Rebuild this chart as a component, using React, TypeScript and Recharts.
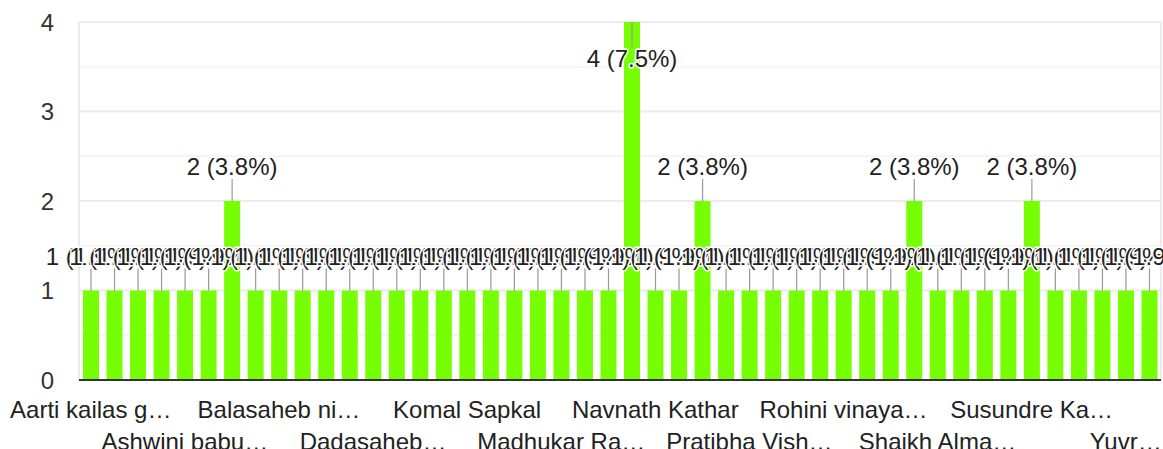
import React from 'react';
import { BarChart, Bar, XAxis, YAxis, CartesianGrid, LabelList } from 'recharts';

// responses per person (46 people, 53 responses in total)
const values = [
  1, 1, 1, 1, 1, 1, 2, 1, 1, 1,
  1, 1, 1, 1, 1, 1, 1, 1, 1, 1,
  1, 1, 1, 4, 1, 1, 2, 1, 1, 1,
  1, 1, 1, 1, 1, 2, 1, 1, 1, 1,
  2, 1, 1, 1, 1, 1,
];

// only every 4th name is shown on the axis
const tickLabels = [
  'Aarti kailas g…',
  'Ashwini babu…',
  'Balasaheb ni…',
  'Dadasaheb…',
  'Komal Sapkal',
  'Madhukar Ra…',
  'Navnath Kathar',
  'Pratibha Vish…',
  'Rohini vinaya…',
  'Shaikh Alma…',
  'Susundre Ka…',
  'Yuvr…',
];

const yTicks = [0, 1, 2, 3, 4];
const minorTicks = [0.5, 1.5, 2.5, 3.5];
const yMax = 4;

const total = values.reduce((s, v) => s + v, 0);
const data = values.map((v, i) => ({ id: i, count: v }));

const FONT = "Arial, 'Liberation Sans', sans-serif";

const BarLabel = (props: any) => {
  const { x, y, width, value } = props;
  const cx = Number(x) + Number(width) / 2;
  const top = Number(y);
  const pct = ((value / total) * 100).toFixed(1);
  // no room above the tallest bar, so its label goes inside
  const flip = top < 50;
  const y2 = flip ? top + 25 : top - 22;
  const ty = flip ? top + 45 : top - 26;
  return (
    <g>
      <line x1={cx} y1={top} x2={cx} y2={y2} stroke="#999" strokeWidth={1.2} />
      <text
        x={cx}
        y={ty}
        textAnchor="middle"
        fontSize={24}
        fontFamily={FONT}
        fill="#222"
        stroke="#fff"
        strokeWidth={3}
        strokeLinejoin="round"
        paintOrder="stroke"
      >
        {`${value} (${pct}%)`}
      </text>
    </g>
  );
};

const XTick = (props: any) => {
  const { x, y, payload } = props;
  const i = Number(payload.value);
  if (i % 4 !== 0) return null;
  const k = i / 4;
  return (
    <text
      x={x}
      y={y + (k % 2 === 0 ? 38 : 70)}
      textAnchor="middle"
      fontSize={24}
      fontFamily={FONT}
      fill="#222"
    >
      {tickLabels[k]}
    </text>
  );
};

// half-step gridlines, lighter than the main ones
const minorLines = ({ offset }: any) =>
  minorTicks.map((t) => offset.top + offset.height * (1 - t / yMax));

export default function App() {
  return (
    <div style={{ position: 'absolute', left: 0, top: 0, background: '#fff' }}>
      <BarChart
        width={1163}
        height={449}
        data={data}
        margin={{ top: 22, right: 2, left: 0, bottom: 0 }}
      >
        <CartesianGrid
          stroke="#f5f5f5"
          strokeWidth={2}
          vertical={false}
          horizontalCoordinatesGenerator={minorLines}
        />
        <CartesianGrid
          stroke="#ebebeb"
          strokeWidth={2}
          verticalCoordinatesGenerator={({ offset }: any) => [offset.left, offset.left + offset.width]}
        />
        <XAxis
          dataKey="id"
          interval={0}
          tick={<XTick />}
          tickLine={false}
          tickSize={0}
          tickMargin={0}
          height={69}
          axisLine={{ stroke: '#333', strokeWidth: 2 }}
        />
        <YAxis
          domain={[0, yMax]}
          ticks={yTicks}
          width={79}
          axisLine={false}
          tickLine={false}
          tickSize={0}
          tickMargin={25}
          tick={{ fontSize: 24, fontFamily: FONT, fill: '#333' }}
        />
        <Bar dataKey="count" fill="#76ff03" barSize={16} isAnimationActive={false}>
          <LabelList dataKey="count" content={<BarLabel />} />
        </Bar>
      </BarChart>
    </div>
  );
}
